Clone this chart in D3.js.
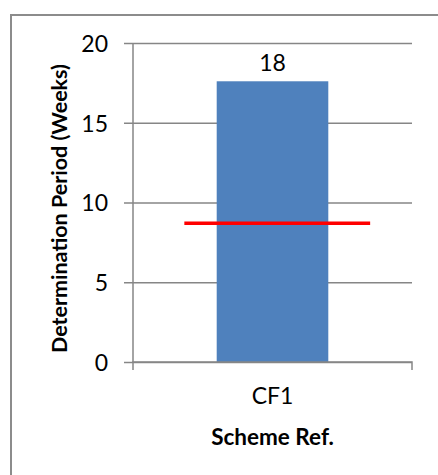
<!DOCTYPE html>
<html>
<head>
<meta charset="utf-8">
<script src="https://cdn.jsdelivr.net/npm/d3@7"></script>
<style>
  html, body { margin: 0; padding: 0; background: #fff; }
  svg { display: block; }
  text { font-family: Lato, "Open Sans", sans-serif; fill: #000; }
</style>
</head>
<body>
<script>
// Determination period per scheme, with the target period drawn as a red line
const categories = ["CF1"];
const periods = [17.6];
const targets = [8.7];
const yTicks = [0, 5, 10, 15, 20];

const W = 438, H = 475;
const plot = { left: 133, right: 412, top: 43, bottom: 362 };

const svg = d3.select("body").append("svg")
  .attr("width", W).attr("height", H);

// chart frame (top and left edges visible)
svg.append("path")
  .attr("d", `M11,${H} L11,15 L${W},15`)
  .attr("fill", "none")
  .attr("stroke", "#8c8c8c")
  .attr("stroke-width", 2);

const y = d3.scaleLinear().domain([0, 20]).range([plot.bottom, plot.top]);
const x = d3.scaleBand().domain(categories)
  .range([plot.left, plot.right])
  .paddingInner(0).paddingOuter(0.75);

// gridlines + y axis
const yAxis = d3.axisLeft(y).tickValues(yTicks)
  .tickSize(-(plot.right - plot.left)).tickPadding(25);
const gy = svg.append("g").attr("transform", `translate(${plot.left},0)`).call(yAxis);
gy.select(".domain").remove();
gy.selectAll(".tick line")
  .attr("x1", -9)
  .attr("stroke", "#868686").attr("stroke-width", 1.5);
gy.selectAll(".tick text")
  .style("font-size", "23px").attr("dy", "0.36em");

// vertical axis line
svg.append("line")
  .attr("x1", plot.left).attr("x2", plot.left)
  .attr("y1", plot.top).attr("y2", plot.bottom)
  .attr("stroke", "#868686").attr("stroke-width", 1.5);

// bars
svg.selectAll("rect.bar")
  .data(categories.map((c, i) => ({ c, v: periods[i] })))
  .join("rect")
  .attr("class", "bar")
  .attr("x", d => x(d.c))
  .attr("width", x.bandwidth())
  .attr("y", d => y(d.v))
  .attr("height", d => y(0) - y(d.v))
  .attr("fill", "#4f81bd");

// value labels
svg.selectAll("text.val")
  .data(categories.map((c, i) => ({ c, v: periods[i] })))
  .join("text")
  .attr("class", "val")
  .attr("x", d => x(d.c) + x.bandwidth() / 2)
  .attr("y", d => y(d.v) - 10)
  .attr("text-anchor", "middle")
  .style("font-size", "23px")
  .text(d => d3.format(".0f")(d.v));

// x axis line with end ticks
const xAxis = d3.axisBottom(x).tickSize(0).tickPadding(26);
const gx = svg.append("g").attr("transform", `translate(0,${plot.bottom})`).call(xAxis);
gx.select(".domain").remove();
gx.selectAll(".tick text").style("font-size", "23px").attr("dy", "0.71em");
svg.append("path")
  .attr("d", `M${plot.left},${plot.bottom + 8} V${plot.bottom} H${plot.right} V${plot.bottom + 8}`)
  .attr("fill", "none")
  .attr("stroke", "#868686").attr("stroke-width", 1.5);

// target line
svg.selectAll("line.target")
  .data(categories.map((c, i) => ({ c, v: targets[i] })))
  .join("line")
  .attr("class", "target")
  .attr("x1", d => x(d.c) - 0.29 * x.bandwidth())
  .attr("x2", d => x(d.c) + 1.375 * x.bandwidth())
  .attr("y1", d => y(d.v)).attr("y2", d => y(d.v))
  .attr("stroke", "#ff0000").attr("stroke-width", 3.5);

// axis titles
svg.append("text")
  .attr("transform", `translate(67,${(plot.top + plot.bottom) / 2 + 6}) rotate(-90)`)
  .attr("text-anchor", "middle")
  .style("font-size", "21.5px").style("font-weight", "bold")
  .text("Determination Period (Weeks)");

svg.append("text")
  .attr("x", (plot.left + plot.right) / 2)
  .attr("y", 445)
  .attr("text-anchor", "middle")
  .style("font-size", "22.5px").style("font-weight", "bold")
  .text("Scheme Ref.");
</script>
</body>
</html>
